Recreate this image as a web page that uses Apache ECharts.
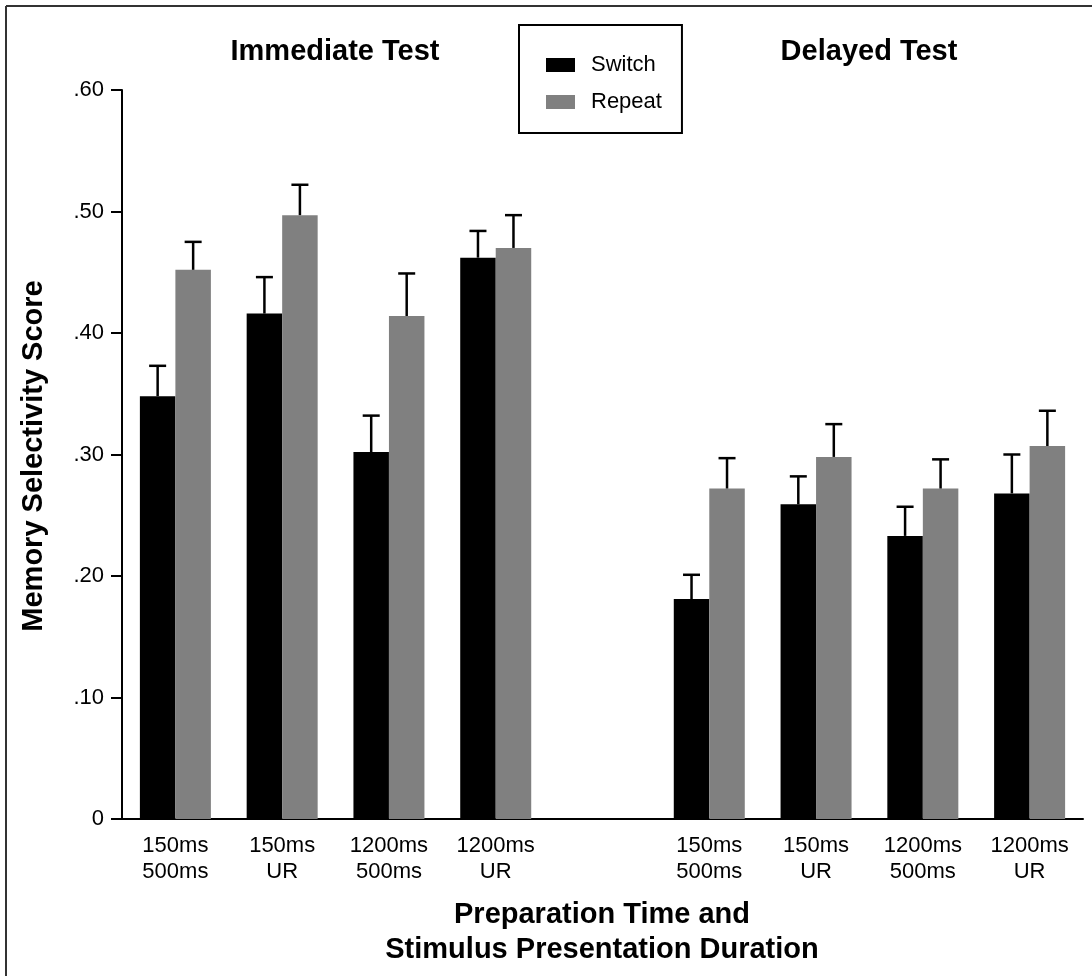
<!DOCTYPE html>
<html>
<head>
<meta charset="utf-8">
<script src="https://cdn.jsdelivr.net/npm/echarts@6/dist/echarts.min.js"></script>
<style>
html,body{margin:0;padding:0;background:#fff;}
#chart{width:1092px;height:976px;}
</style>
</head>
<body>
<div id="chart"></div>
<script>
// ---- data ----
const categories = ['150ms\n500ms', '150ms\nUR', '1200ms\n500ms', '1200ms\nUR', '',
                    '150ms\n500ms', '150ms\nUR', '1200ms\n500ms', '1200ms\nUR'];
const seriesNames = ['Switch', 'Repeat'];
const switchMean = [0.348, 0.416, 0.302, 0.462, null, 0.181, 0.259, 0.233, 0.268];
const switchSE   = [0.025, 0.030, 0.030, 0.022, null, 0.020, 0.023, 0.024, 0.032];
const repeatMean = [0.452, 0.497, 0.414, 0.470, null, 0.272, 0.298, 0.272, 0.307];
const repeatSE   = [0.023, 0.025, 0.035, 0.027, null, 0.025, 0.027, 0.024, 0.029];
const yTickLabels = ['0', '.10', '.20', '.30', '.40', '.50', '.60'];
const panelTitles = ['Immediate Test', 'Delayed Test'];
const yTitle = 'Memory Selectivity Score';
const xTitle = 'Preparation Time and\nStimulus Presentation Duration';

// ---- chart ----
const FONT = "'Liberation Sans', Arial, Helvetica, sans-serif";
const BAR_W = 35.5;
const chart = echarts.init(document.getElementById('chart'), null, {renderer: 'canvas'});

function errData(mean, se) {
  const out = [];
  mean.forEach((m, i) => { if (m != null) out.push([i, m, m + se[i]]); });
  return out;
}
function errRender(side) {
  return function (params, api) {
    const i = api.value(0);
    const p0 = api.coord([i, api.value(1)]);
    const p1 = api.coord([i, api.value(2)]);
    const x = p0[0] + side * BAR_W / 2;
    const st = {stroke: '#000', lineWidth: 2.5};
    return {
      type: 'group',
      children: [
        {type: 'line', shape: {x1: x, y1: p0[1], x2: x, y2: p1[1]}, style: st},
        {type: 'line', shape: {x1: x - 8.5, y1: p1[1], x2: x + 8.5, y2: p1[1]}, style: st}
      ]
    };
  };
}
const toBar = a => a.map(v => v == null ? '-' : v);

const option = {
  animation: false,
  backgroundColor: '#fff',
  textStyle: {fontFamily: FONT},
  grid: {left: 122, right: 9, top: 90, bottom: 157, containLabel: false},
  legend: {
    data: seriesNames,
    orient: 'vertical',
    left: 519, top: 25,
    icon: 'rect',
    itemWidth: 29, itemHeight: 14,
    itemGap: 15,
    padding: [29, 20, 20, 27],
    borderColor: '#000', borderWidth: 2,
    textStyle: {fontSize: 22, color: '#000', fontFamily: FONT, padding: [0, 0, 0, 11]}
  },
  xAxis: {
    type: 'category',
    data: categories,
    boundaryGap: true,
    axisLine: {show: true, lineStyle: {color: '#000', width: 2}},
    axisTick: {show: false},
    axisLabel: {fontSize: 22, lineHeight: 26, color: '#000', margin: 14, interval: 0, fontFamily: FONT},
    splitLine: {show: false}
  },
  yAxis: {
    type: 'value',
    min: 0, max: 0.6, interval: 0.1,
    axisLine: {show: true, lineStyle: {color: '#000', width: 2}},
    axisTick: {show: true, length: 11, lineStyle: {color: '#000', width: 2}},
    axisLabel: {
      fontSize: 22, color: '#000', margin: 18, fontFamily: FONT,
      formatter: v => yTickLabels[Math.round(v * 10)]
    },
    splitLine: {show: false}
  },
  series: [
    {name: seriesNames[0], type: 'bar', data: toBar(switchMean), barWidth: BAR_W, barGap: '0%',
     itemStyle: {color: '#000'}},
    {name: seriesNames[1], type: 'bar', data: toBar(repeatMean), barWidth: BAR_W, barGap: '0%',
     itemStyle: {color: '#808080'}},
    {type: 'custom', name: 'errS', data: errData(switchMean, switchSE), renderItem: errRender(-1),
     encode: {x: 0, y: 2}, z: 3},
    {type: 'custom', name: 'errR', data: errData(repeatMean, repeatSE), renderItem: errRender(1),
     encode: {x: 0, y: 2}, z: 3}
  ],
  graphic: [
    {type: 'line', shape: {x1: 6, y1: 6, x2: 1100, y2: 6}, style: {stroke: '#333', lineWidth: 2}},
    {type: 'line', shape: {x1: 6, y1: 6, x2: 6, y2: 1000}, style: {stroke: '#333', lineWidth: 2}},
    {type: 'text', x: 335, y: 52, style: {text: panelTitles[0], font: 'bold 29px ' + FONT,
      fill: '#000', textAlign: 'center', textVerticalAlign: 'middle'}},
    {type: 'text', x: 869, y: 52, style: {text: panelTitles[1], font: 'bold 29px ' + FONT,
      fill: '#000', textAlign: 'center', textVerticalAlign: 'middle'}},
    {type: 'text', x: 34, y: 456, rotation: Math.PI / 2, style: {text: yTitle, font: 'bold 29px ' + FONT,
      fill: '#000', textAlign: 'center', textVerticalAlign: 'middle'}},
    {type: 'text', x: 602, y: 932, style: {text: xTitle, font: 'bold 29px ' + FONT, lineHeight: 35,
      fill: '#000', textAlign: 'center', textVerticalAlign: 'middle'}}
  ]
};
chart.setOption(option);
</script>
</body>
</html>
